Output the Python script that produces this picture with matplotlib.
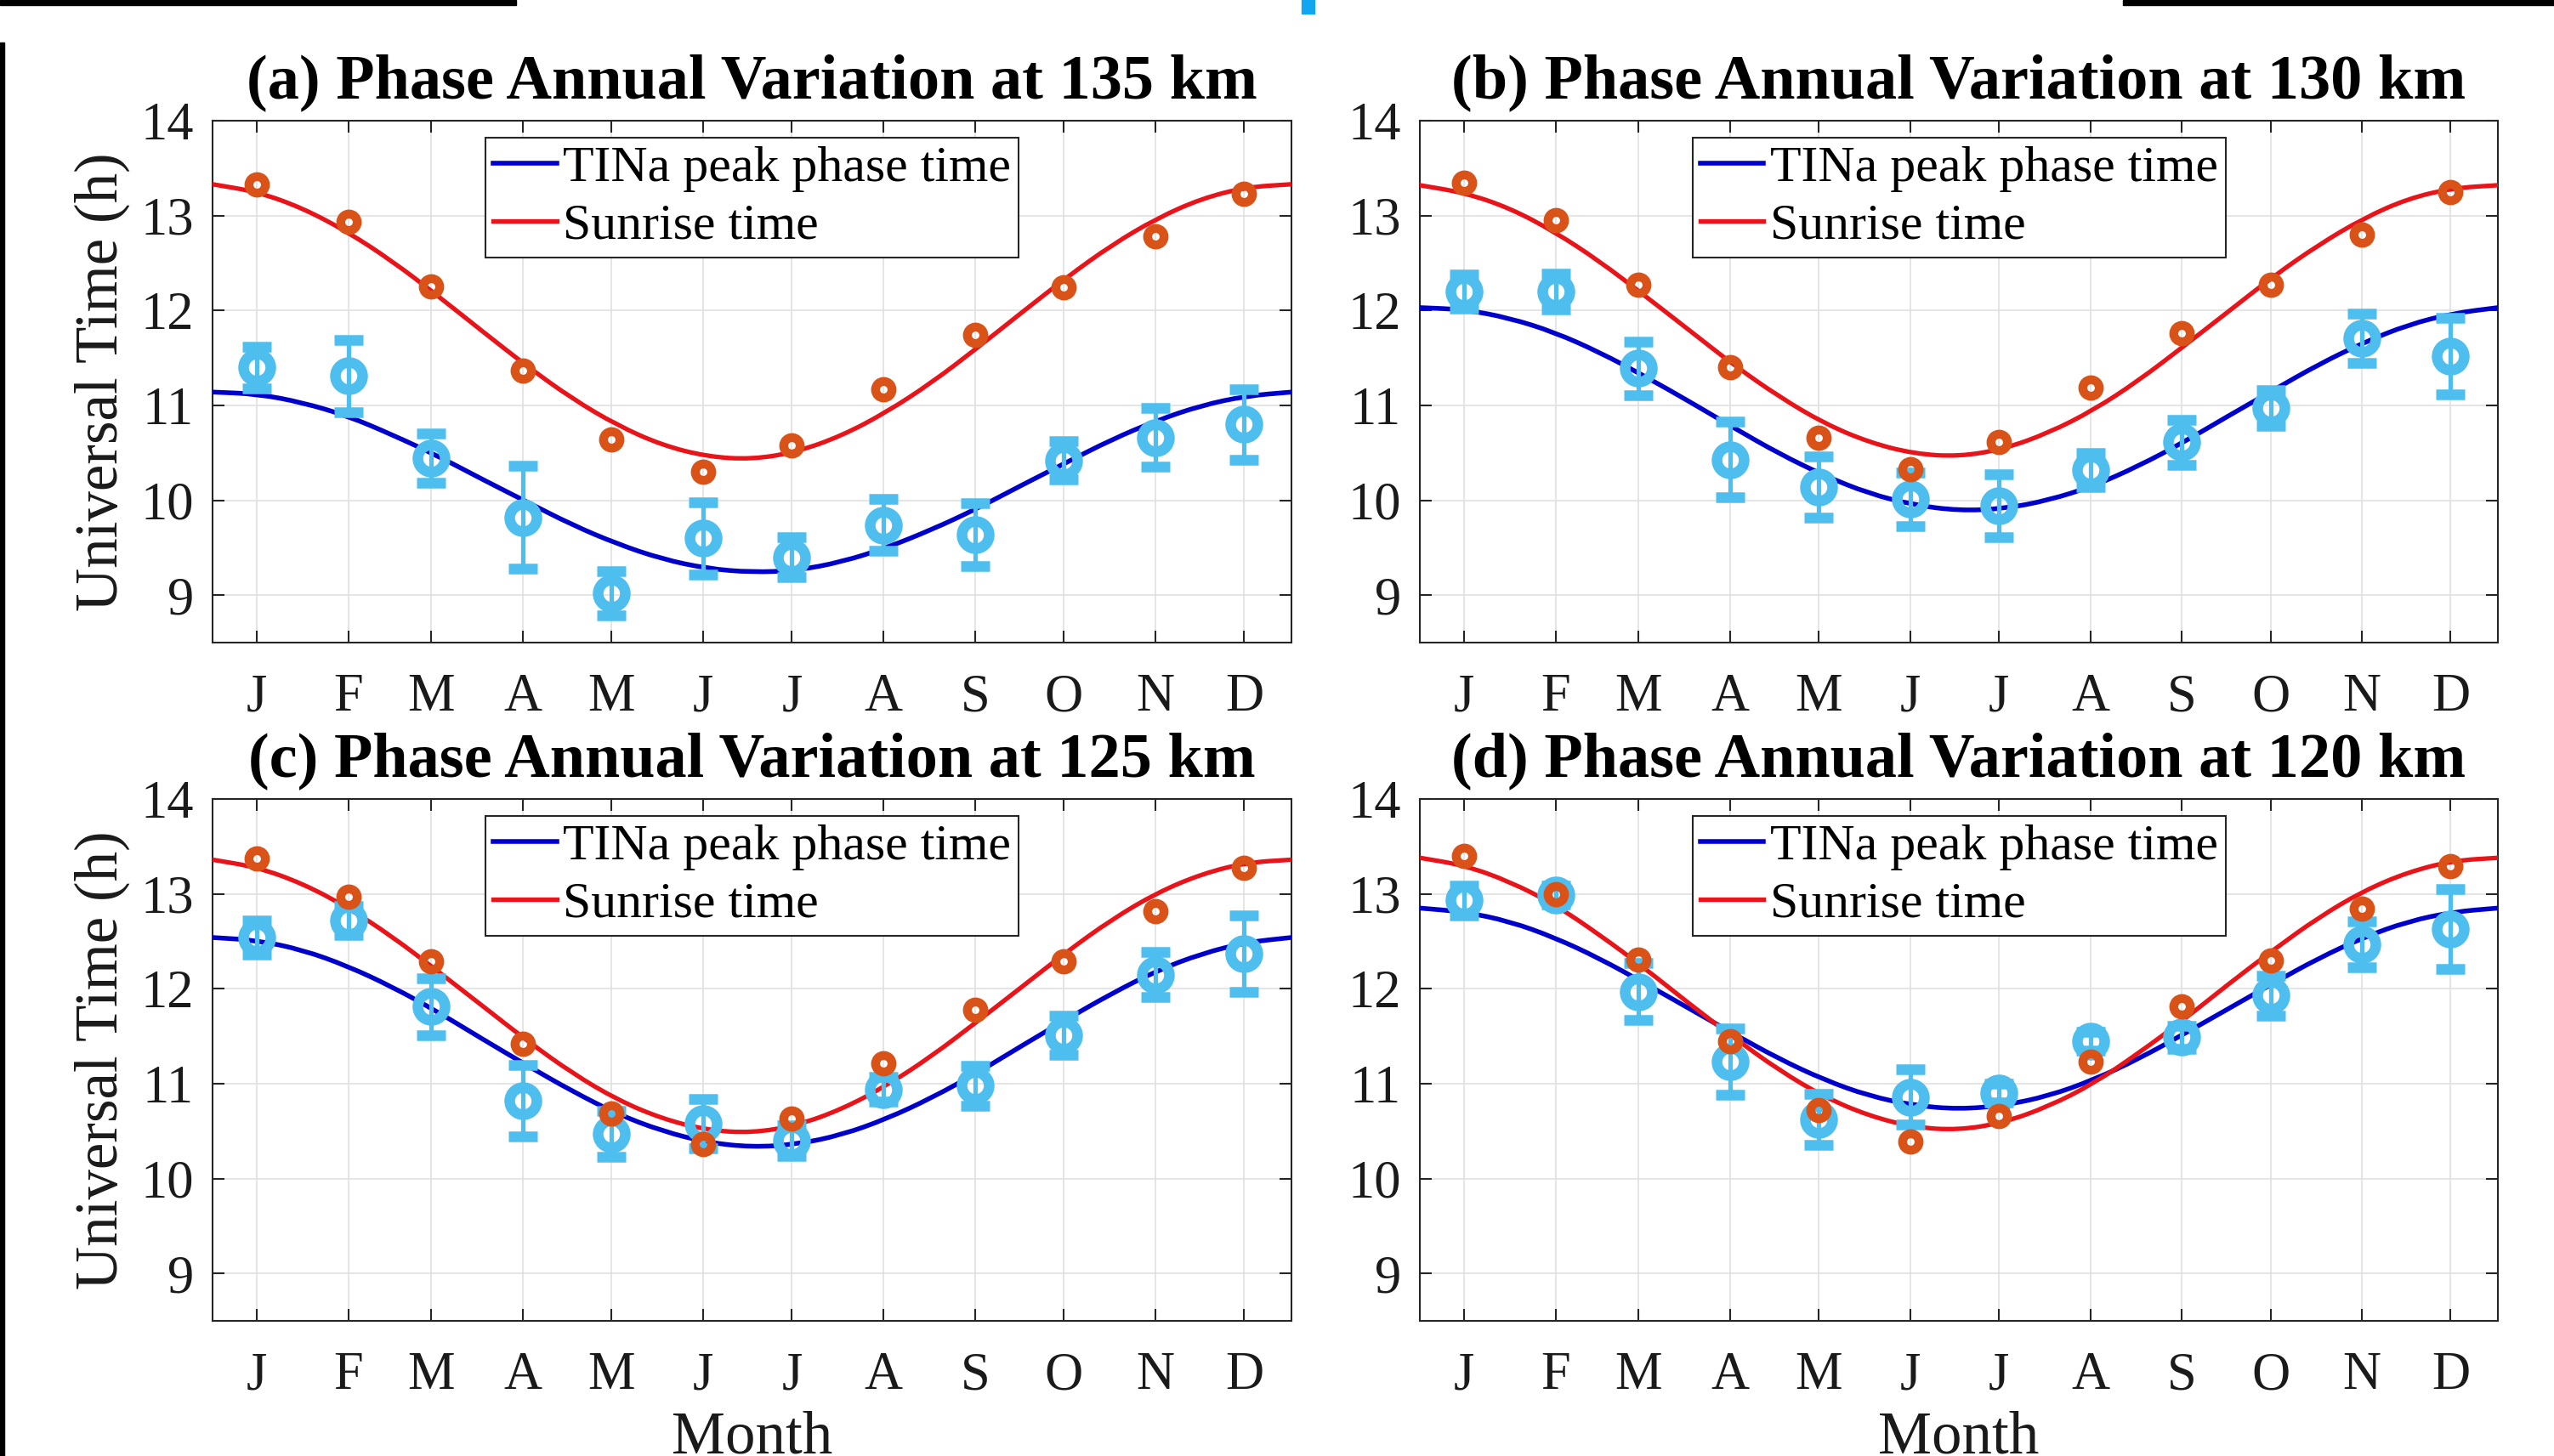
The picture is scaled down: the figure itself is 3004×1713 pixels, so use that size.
import matplotlib
matplotlib.use('Agg')
import matplotlib.pyplot as plt
from matplotlib.patches import Rectangle, PathPatch
from matplotlib.path import Path
from matplotlib.lines import Line2D

plt.rcParams['font.family'] = ['Liberation Serif', 'DejaVu Serif']

# x axis: day of year, ticks at mid-month
month_days = [15, 46, 74, 105, 135, 166, 196, 227, 258, 288, 319, 349]
month_labels = ['J', 'F', 'M', 'A', 'M', 'J', 'J', 'A', 'S', 'O', 'N', 'D']
curve_days = [0, 15.2, 30.4, 45.6, 60.8, 76.0, 91.3, 106.5, 121.7, 136.9, 152.1, 167.3,
              182.5, 197.7, 212.9, 228.1, 243.3, 258.5, 273.8, 289.0, 304.2, 319.4,
              334.6, 349.8, 365]

altitudes = ['135', '130', '125', '120']
panel_tags = ['(a)', '(b)', '(c)', '(d)']

# 135 km
sunrise_135 = [13.33, 12.93, 12.25, 11.37, 10.64, 10.30, 10.58, 11.17, 11.74, 12.24, 12.78, 13.23]
tina_135 = [11.40, 11.31, 10.44, 9.82, 9.02, 9.60, 9.40, 9.74, 9.64, 10.42, 10.66, 10.80]
tina_err_135 = [0.22, 0.38, 0.26, 0.54, 0.23, 0.38, 0.21, 0.27, 0.33, 0.20, 0.31, 0.37]
sunrise_fit_135 = [13.33, 13.25, 13.08, 12.83, 12.52, 12.16, 11.78, 11.41, 11.07, 10.79, 10.58, 10.46,
                   10.43, 10.51, 10.68, 10.93, 11.24, 11.60, 11.98, 12.35, 12.69, 12.97, 13.18, 13.30, 13.33]
tina_fit_135 = [11.14, 11.12, 11.03, 10.89, 10.69, 10.47, 10.22, 9.98, 9.74, 9.54, 9.38, 9.28,
                9.24, 9.26, 9.35, 9.50, 9.69, 9.91, 10.16, 10.40, 10.64, 10.84, 11.00, 11.10, 11.14]

# 130 km
sunrise_130 = [13.35, 12.95, 12.27, 11.40, 10.66, 10.33, 10.61, 11.19, 11.76, 12.27, 12.80, 13.25]
tina_130 = [12.20, 12.20, 11.39, 10.43, 10.14, 10.01, 9.94, 10.32, 10.61, 10.97, 11.71, 11.52]
tina_err_130 = [0.18, 0.19, 0.28, 0.40, 0.32, 0.28, 0.33, 0.18, 0.24, 0.19, 0.26, 0.40]
sunrise_fit_130 = [13.32, 13.24, 13.08, 12.83, 12.52, 12.16, 11.79, 11.42, 11.09, 10.81, 10.61, 10.49,
                   10.46, 10.54, 10.71, 10.95, 11.26, 11.62, 11.99, 12.36, 12.69, 12.97, 13.18, 13.29, 13.32]
tina_fit_130 = [12.03, 12.01, 11.92, 11.77, 11.56, 11.31, 11.04, 10.76, 10.49, 10.26, 10.07, 9.95,
                9.89, 9.91, 10.00, 10.15, 10.36, 10.61, 10.89, 11.16, 11.43, 11.66, 11.85, 11.97, 12.03]

# 125 km
sunrise_125 = [13.37, 12.97, 12.29, 11.42, 10.69, 10.36, 10.63, 11.21, 11.78, 12.29, 12.82, 13.27]
tina_125 = [12.54, 12.72, 11.81, 10.82, 10.47, 10.58, 10.40, 10.94, 10.98, 11.51, 12.15, 12.37]
tina_err_125 = [0.18, 0.15, 0.30, 0.38, 0.24, 0.26, 0.16, 0.13, 0.21, 0.21, 0.24, 0.40]
sunrise_fit_125 = [13.36, 13.28, 13.11, 12.86, 12.55, 12.19, 11.82, 11.45, 11.11, 10.83, 10.63, 10.51,
                   10.48, 10.56, 10.73, 10.98, 11.29, 11.65, 12.02, 12.39, 12.73, 13.01, 13.21, 13.33, 13.36]
tina_fit_125 = [12.54, 12.51, 12.41, 12.24, 12.02, 11.76, 11.47, 11.19, 10.92, 10.68, 10.50, 10.38,
                10.33, 10.36, 10.46, 10.63, 10.85, 11.11, 11.40, 11.68, 11.95, 12.19, 12.37, 12.49, 12.54]

# 120 km
sunrise_120 = [13.40, 13.00, 12.31, 11.45, 10.72, 10.39, 10.66, 11.23, 11.81, 12.30, 12.84, 13.29]
tina_120 = [12.93, 12.99, 11.97, 11.23, 10.62, 10.86, 10.90, 11.45, 11.49, 11.93, 12.47, 12.63]
tina_err_120 = [0.16, 0.10, 0.30, 0.35, 0.27, 0.29, 0.10, 0.10, 0.12, 0.21, 0.24, 0.42]
sunrise_fit_120 = [13.38, 13.30, 13.13, 12.89, 12.57, 12.22, 11.84, 11.48, 11.14, 10.86, 10.66, 10.54,
                   10.51, 10.59, 10.76, 11.00, 11.32, 11.67, 12.05, 12.41, 12.75, 13.03, 13.23, 13.35, 13.38]
tina_fit_120 = [12.85, 12.81, 12.71, 12.54, 12.32, 12.06, 11.79, 11.52, 11.26, 11.04, 10.87, 10.77,
                10.73, 10.77, 10.87, 11.04, 11.26, 11.52, 11.79, 12.06, 12.32, 12.54, 12.71, 12.81, 12.85]

panels = [
    (sunrise_135, tina_135, tina_err_135, sunrise_fit_135, tina_fit_135),
    (sunrise_130, tina_130, tina_err_130, sunrise_fit_130, tina_fit_130),
    (sunrise_125, tina_125, tina_err_125, sunrise_fit_125, tina_fit_125),
    (sunrise_120, tina_120, tina_err_120, sunrise_fit_120, tina_fit_120),
]

BLUE = '#0000cd'
RED = '#e8141a'
LIGHT_BLUE = '#4dbeee'
ORANGE = '#d95319'
dark = '#262626'


def smooth_curve(ax, xs, ys, color, lw):
    """Draw the read-off curve points as a smooth quadratic-Bezier path."""
    pts = list(zip(xs, ys))
    verts = [pts[0]]
    codes = [Path.MOVETO]
    mid = lambda p, q: ((p[0] + q[0]) / 2, (p[1] + q[1]) / 2)
    verts.append(mid(pts[0], pts[1]))
    codes.append(Path.LINETO)
    for k in range(1, len(pts) - 1):
        verts += [pts[k], mid(pts[k], pts[k + 1])]
        codes += [Path.CURVE3, Path.CURVE3]
    verts.append(pts[-1])
    codes.append(Path.LINETO)
    patch = PathPatch(Path(verts, codes), facecolor='none', edgecolor=color, lw=lw,
                      capstyle='round', joinstyle='round', zorder=3)
    ax.add_patch(patch)
    return Line2D([], [], color=color, lw=lw)


W, H = 3004, 1713
fig = plt.figure(figsize=(W / 100, H / 100), dpi=100, facecolor='white')

# axes boxes in pixels: left, top, right, bottom
boxes = [(250, 142, 1519, 756), (1670, 142, 2938, 756),
         (250, 940, 1519, 1554), (1670, 940, 2938, 1554)]

for i, (box, data) in enumerate(zip(boxes, panels)):
    sunrise, tina, tina_err, sunrise_fit, tina_fit = data
    l, t, r, b = box
    ax = fig.add_axes([l / W, 1 - b / H, (r - l) / W, (b - t) / H])

    h_blue = smooth_curve(ax, curve_days, tina_fit, BLUE, 4.0)
    h_red = smooth_curve(ax, curve_days, sunrise_fit, RED, 3.8)
    ax.errorbar(month_days, tina, yerr=tina_err, fmt='o', mfc='none', mec=LIGHT_BLUE,
                ms=23, mew=9, ecolor=LIGHT_BLUE, elinewidth=3.8, capsize=12,
                capthick=3.8, zorder=4)
    ax.plot(month_days, sunrise, 'o', mfc='none', mec=ORANGE, ms=14, mew=7.5,
            zorder=5)

    ax.set_xlim(0, 365)
    ax.set_ylim(8.5, 14)
    ax.set_xticks(month_days)
    ax.set_xticklabels(month_labels)
    ax.set_yticks(range(9, 15))
    ax.grid(True, color='#dedede', linewidth=1.1)
    ax.set_axisbelow(True)
    ax.tick_params(direction='in', length=10, width=1.5, color=dark, labelcolor='#1a1a1a',
                   top=True, right=True, labelsize=45)
    ax.tick_params(axis='x', pad=26)
    ax.tick_params(axis='y', pad=16)
    for s in ax.spines.values():
        s.set_linewidth(1.5)
        s.set_color(dark)

    ax.set_title(panel_tags[i] + ' Phase Annual Variation at ' + altitudes[i] + ' km',
                 fontsize=53.5, fontweight='bold', pad=19)
    if i % 2 == 0:
        ax.set_ylabel('Universal Time (h)', fontsize=51, labelpad=9, color='#1a1a1a')
    if i >= 2:
        ax.set_xlabel('Month', fontsize=51, labelpad=8, color='#1a1a1a')

    leg = ax.legend([h_blue, h_red], ['TINa peak phase time', 'Sunrise time'],
                    loc='upper left', bbox_to_anchor=(0.253, 0.967), borderaxespad=0,
                    fontsize=43, frameon=True, fancybox=False, framealpha=1,
                    edgecolor=dark, borderpad=0.15, labelspacing=0.22,
                    handlelength=1.25, handletextpad=0.12)
    leg.get_frame().set_linewidth(1.5)

# screenshot edge artifacts
fig.add_artist(Rectangle((0, 1 - 6 / H), 607 / W, 6 / H, color='black',
                         transform=fig.transFigure))
fig.add_artist(Rectangle((2497 / W, 1 - 6 / H), 507 / W, 6 / H, color='black',
                         transform=fig.transFigure))
fig.add_artist(Rectangle((1531 / W, 1 - 16 / H), 15 / W, 16 / H, color='#12a5f0',
                         transform=fig.transFigure))
fig.add_artist(Rectangle((0, 0), 5 / W, (H - 50) / H, color='black',
                         transform=fig.transFigure))

fig.savefig('out.png', dpi=100, facecolor='white')
